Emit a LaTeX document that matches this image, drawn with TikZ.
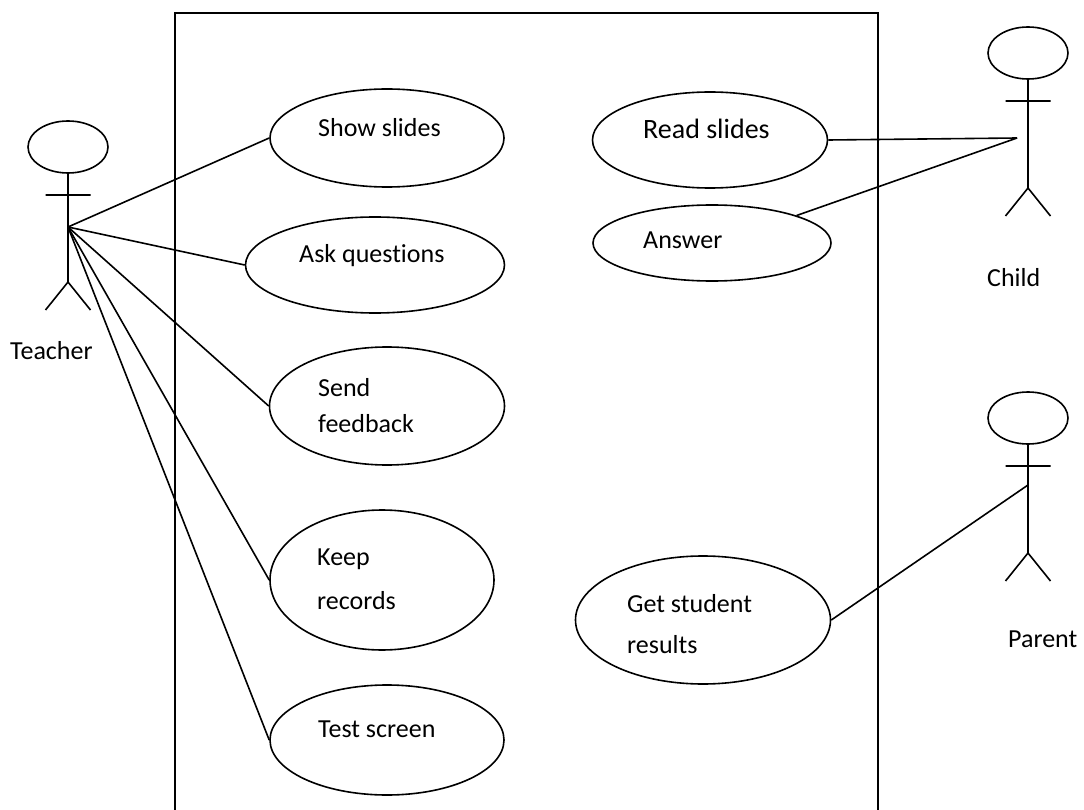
\documentclass[tikz,border=0pt]{standalone}
\usepackage{fontspec}
\setmainfont{Carlito}[Ligatures=NoCommon]
\usetikzlibrary{shapes.geometric}
\begin{document}
\begin{tikzpicture}[x=1pt,y=-1pt,
  conn/.style={line width=1.6pt},
  uc/.style={draw,line width=1.6pt,ellipse,inner sep=0pt},
  txt/.style={anchor=base west,inner sep=0pt,font=\fontsize{26}{30}\selectfont},
  bigtxt/.style={anchor=base west,inner sep=0pt,font=\fontsize{28}{32}\selectfont},
  actor/.pic={
    \draw[line width=1.6pt] (0,0) ellipse [x radius=40,y radius=26];
    \draw[line width=1.6pt] (0,26) -- (0,135) (-22.5,48) -- (22.5,48) (-22.5,163) -- (0,135) -- (22.5,163);
  }]
\useasboundingbox (0,0) rectangle (1084,810);
% system boundary (open at the bottom edge)
\draw[conn] (175,812) -- (175,13) -- (878,13) -- (878,812);

% actors
\pic at (68,147) {actor};
\pic at (1028,53) {actor};
\pic at (1028,418) {actor};
\node[txt] (lteacher) at (10,359) {Teacher};
\node[txt] (lchild) at (987,287) {Child};
\node[txt] (lparent) at (1008,647) {Parent};
\coordinate (tc) at (68,227);
\coordinate (cc) at (1017,138);
\coordinate (pc) at (1028,485);

% use cases
\node[uc,minimum width=234pt,minimum height=98pt] (show) at (387,138) {};
\node[uc,minimum width=259pt,minimum height=96pt] (ask) at (375,265) {};
\node[uc,minimum width=235pt,minimum height=118pt] (send) at (387,406) {};
\node[uc,minimum width=224pt,minimum height=140pt] (keep) at (382,580) {};
\node[uc,minimum width=234pt,minimum height=110pt] (test) at (387,740) {};
\node[uc,minimum width=235pt,minimum height=96pt] (read) at (710,140) {};
\node[uc,minimum width=238pt,minimum height=76pt] (ans) at (712,243) {};
\node[uc,minimum width=255pt,minimum height=128pt] (gsr) at (703,620) {};

\node[txt] (tshow) at (318,137) {Show slides};
\node[txt] (task) at (299,263) {Ask questions};
\node[bigtxt] (tread) at (643,139) {Read slides};
\node[txt] (tans) at (643,249) {Answer};
\node[txt] (tsend1) at (318,396) {Send};
\node[txt] (tsend2) at (318,432) {feedback};
\node[txt] (tkeep1) at (317,565) {Keep};
\node[txt] (tkeep2) at (317,609) {records};
\node[txt] (ttest) at (318,737) {Test screen};
\node[txt] (tgsr1) at (627,612) {Get student};
\node[txt] (tgsr2) at (627,653) {results};

% connectors
\draw[conn] (tc) -- (show.west);
\draw[conn] (tc) -- (ask.west);
\draw[conn] (tc) -- (send.west);
\draw[conn] (tc) -- (keep.west);
\draw[conn] (tc) -- (test.west);
\draw[conn] (read.east) -- (cc);
\draw[conn] (ans.18) -- (cc);
\draw[conn] (gsr.east) -- (pc);
\end{tikzpicture}
\end{document}
